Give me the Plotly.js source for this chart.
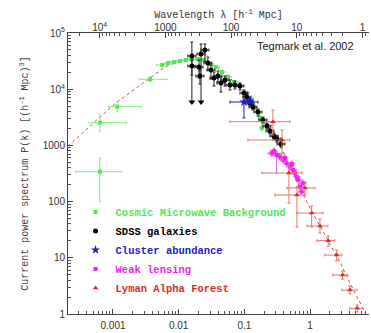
<!DOCTYPE html>
<html><head><meta charset="utf-8">
<script src="https://cdn.plot.ly/plotly-3.0.1.min.js"></script>
<style>html,body{margin:0;padding:0;background:#fff;} #chart{width:371px;height:333px;}</style>
</head><body><div id="chart"></div>
<script>
// ---- Model curve (red dotted) ----
const modelK = [2.07e-4, 3.62e-4, 6.34e-4, 1.15e-3, 2.02e-3, 3.66e-3, 6.18e-3, 0.0105, 0.0149, 0.0211, 0.0299, 0.0425, 0.0604, 0.0857, 0.122, 0.173, 0.245, 0.348, 0.494, 0.702, 0.997, 1.42, 2.01, 2.85, 4.05, 5.75, 7.61];
const modelP = [975, 1800, 3200, 5920, 9680, 15800, 24800, 31800, 34400, 33100, 28100, 22000, 15800, 10500, 6170, 3340, 1800, 975, 448, 175, 77, 36.8, 17.6, 8.4, 3.56, 1.57, 0.85];

// ---- Cosmic Microwave Background ----
const cmbK   = [6.3e-4, 6.3e-4, 1.16e-3, 3.66e-3, 0.0056, 0.0069, 0.0085, 0.0105, 0.0129, 0.0159, 0.0197, 0.0243, 0.0299, 0.0370, 0.0456, 0.0562, 0.0695, 0.0857, 0.1060, 0.1305, 0.1450, 0.1728, 0.1853];
const cmbKlo = [2.7e-4, 4.36e-4, 8.5e-4, 2.5e-3, 0.0046, 0.0061, 0.0075, 0.0093, 0.0114, 0.0141, 0.0174, 0.0215, 0.0265, 0.0327, 0.0403, 0.0497, 0.0615, 0.0758, 0.0938, 0.1220, 0.1360, 0.1620, 0.1740];
const cmbKhi = [1.35e-3, 1.6e-3, 2.73e-3, 6.7e-3, 0.0068, 0.0078, 0.0096, 0.0119, 0.0146, 0.0180, 0.0223, 0.0275, 0.0338, 0.0418, 0.0515, 0.0635, 0.0785, 0.0968, 0.1198, 0.1400, 0.1550, 0.1850, 0.1980];
const cmbP   = [340, 2540, 4890, 15000, 27000, 29200, 30500, 31800, 33100, 34400, 34400, 33100, 28100, 24800, 20200, 16500, 13400, 11400, 8550, 6430, 4630, 3073, 2040];
const cmbPlo = [100, 1750, 3980, 13500, 25100, 27200, 28400, 29600, 30800, 32000, 32000, 30800, 26100, 23100, 18800, 15300, 12500, 10600, 7950, 5700, 4000, 2700, 1800];
const cmbPhi = [600, 3570, 6000, 16500, 28900, 31200, 32600, 34000, 35400, 36800, 36800, 35400, 30100, 26500, 21600, 17700, 14300, 12200, 9150, 7200, 5300, 3500, 2350];

// ---- SDSS galaxies ----
const sdssK   = [0.0159, 0.0219, 0.0251, 0.0159, 0.0204, 0.0211, 0.0279, 0.0310, 0.0345, 0.0396, 0.0440, 0.0507, 0.0604, 0.0719, 0.0857, 0.0986, 0.1095, 0.1217, 0.1352, 0.1611, 0.1919, 0.2208, 0.2452, 0.2821, 0.3134, 0.3606];
const sdssKlo = [0.0138, 0.0190, 0.0218, 0.0138, 0.0177, 0.0183, 0.0243, 0.0270, 0.0300, 0.0344, 0.0383, 0.0441, 0.0525, 0.0625, 0.0745, 0.0857, 0.0952, 0.1058, 0.1176, 0.1401, 0.1669, 0.1920, 0.2132, 0.2453, 0.2725, 0.3136];
const sdssKhi = [0.0183, 0.0252, 0.0289, 0.0183, 0.0235, 0.0243, 0.0321, 0.0357, 0.0397, 0.0455, 0.0506, 0.0583, 0.0695, 0.0827, 0.0986, 0.1134, 0.1259, 0.1400, 0.1555, 0.1853, 0.2207, 0.2539, 0.2820, 0.3244, 0.3604, 0.4147];
const sdssP   = [38970, 42300, 49830, 25870, 24830, 17170, 29260, 21960, 15820, 17170, 12890, 14580, 11880, 11880, 11400, 8557, 7263, 5680, 4824, 3929, 2831, 2214, 1804, 1470, 1300, 1059];
const sdssPlo = [5916, 5916, 30500, 17890, 15820, 12380, 21960, 15190, 11400, 13430, 8920, 11400, 9680, 10080, 9680, 7263, 6427, 5024, 4265, 3336, 2503, 1958, 1595, 1300, 1150, 936];
const sdssPhi = [69100, 63700, 63700, 33090, 33090, 21960, 37410, 26960, 20230, 21080, 16490, 17170, 14580, 13990, 12890, 9680, 8210, 6427, 5454, 4443, 3201, 2503, 2040, 1662, 1470, 1198];
const sdssUpperLimit = [true, true, false, false, false, false, false, false, false, false, false, false, false, false, false, false, false, false, false, false, false, false, false, false, false, false];

// ---- Cluster abundance ----
const clK   = [0.0986, 0.1217];
const clKlo = [0.0604, 0.1120];
const clKhi = [0.1611, 0.1320];
const clP   = [5916, 6100];
const clPlo = [3076, 5500];
const clPhi = [6430, 6800];

// ---- Weak lensing ----
const wlK   = [0.2603, 0.2821, 0.3101, 0.3481, 0.3910, 0.4150, 0.4403, 0.4943, 0.5303, 0.5550, 0.5891, 0.6318, 0.6612, 0.7020, 0.7451, 0.7798];
const wlKlo = [0.2286, 0.2541, 0.2794, 0.3136, 0.3523, 0.3739, 0.3967, 0.4453, 0.4778, 0.5000, 0.5307, 0.5692, 0.5957, 0.6324, 0.6713, 0.7025];
const wlKhi = [0.4000, 0.3131, 0.3442, 0.3864, 0.4340, 0.4607, 0.4887, 0.5487, 0.5886, 0.6161, 0.6539, 0.7013, 0.7339, 0.7792, 0.8271, 0.8656];
const wlP   = [723, 795, 675, 629, 550, 597, 480, 418, 467, 365, 319, 274, 242, 184, 150, 214];
const wlPlo = [640, 704, 323, 557, 487, 528, 425, 370, 413, 323, 282, 242, 214, 163, 133, 189];
const wlPhi = [817, 898, 763, 711, 622, 675, 542, 472, 528, 412, 360, 310, 273, 208, 170, 242];

// ---- Lyman Alpha Forest ----
const laK   = [0.272, 0.374, 0.477, 0.632, 0.837, 1.058, 1.415, 1.892, 2.541, 3.135, 4.049, 5.228];
const laKlo = [0.0604, 0.1134, 0.1853, 0.2922, 0.4450, 0.6318, 0.8970, 1.274, 1.686, 2.232, 3.059, 4.049];
const laKhi = [0.4943, 0.4943, 0.7527, 0.8365, 1.187, 1.571, 1.873, 2.393, 3.059, 3.775, 5.174, 6.387];
const laP   = [2641, 1248, 323, 131, 175, 62.7, 36.8, 20.2, 11.2, 4.94, 2.67, 1.263];
const laPlo = [1531, 550, 94.4, 35.3, 131, 35.3, 27.6, 16.2, 8.77, 4.20, 2.27, 1.085];
const laPhi = [4265, 1879, 430, 182, 223, 83.5, 49.0, 24.4, 13.8, 5.82, 3.15, 1.446];

// ---- Axis tick labels ----
const kTickVals = [0.001, 0.01, 0.1, 1];
const kTickText = ['0.001', '0.01', '0.1', '1'];
const pTickVals = [1, 10, 100, 1000, 1e4, 1e5];
const pTickText = ['1', '10', '100', '1000', '10<sup>4</sup>', '10<sup>5</sup>'];
const lamTickVals = [1, 10, 100, 1000, 1e4];
const lamTickText = ['1', '10', '100', '1000', '10<sup>4</sup>'];

function errBar(c, lo, hi, color, w) {
  return {type: 'data', symmetric: false,
    array: hi.map((h, i) => h - c[i]), arrayminus: c.map((v, i) => v - lo[i]),
    color: color, thickness: 1, width: w};
}

const GREEN = '#55e455', BLACK = '#000000', BLUE = '#1c1cc8', MAG = '#ee22ee', RED = '#d92a2a';
const mono = 'Liberation Mono, Courier New, monospace';

const traces = [
  {x: modelK, y: modelP, mode: 'lines', line: {color: '#dd4a4a', width: 1, dash: 'dot'}, showlegend: false, hoverinfo: 'skip'},
  {x: cmbK, y: cmbP, mode: 'markers', name: '<span style="color:' + GREEN + '"><b>Cosmic Microwave Background</b></span>',
   marker: {symbol: 'square', size: 4, color: GREEN},
   error_x: errBar(cmbK, cmbKlo, cmbKhi, '#7df07d', 1), error_y: errBar(cmbP, cmbPlo, cmbPhi, '#7df07d', 1)},
  {x: sdssK, y: sdssP, mode: 'markers', name: '<b>SDSS galaxies</b>',
   marker: {symbol: 'circle', size: 5, color: BLACK},
   error_x: errBar(sdssK, sdssKlo, sdssKhi, '#222', 1.5), error_y: errBar(sdssP, sdssPlo, sdssPhi, '#222', 1.5)},
  {x: sdssK.filter((v, i) => sdssUpperLimit[i]), y: sdssPlo.filter((v, i) => sdssUpperLimit[i]), mode: 'markers',
   marker: {symbol: 'triangle-down', size: 6, color: BLACK}, showlegend: false, hoverinfo: 'skip'},
  {x: clK, y: clP, mode: 'markers', name: '<span style="color:' + BLUE + '"><b>Cluster abundance</b></span>',
   marker: {symbol: 'star', size: 7, color: BLUE},
   error_x: errBar(clK, clKlo, clKhi, BLUE, 1.5), error_y: errBar(clP, clPlo, clPhi, BLUE, 1.5)},
  {x: wlK, y: wlP, mode: 'markers', name: '<span style="color:' + MAG + '"><b>Weak lensing</b></span>',
   marker: {symbol: 'square', size: 4, color: MAG},
   error_x: errBar(wlK, wlKlo, wlKhi, '#f060f0', 1), error_y: errBar(wlP, wlPlo, wlPhi, '#f060f0', 1)},
  {x: laK, y: laP, mode: 'markers', name: '<span style="color:' + RED + '"><b>Lyman Alpha Forest</b></span>',
   marker: {symbol: 'triangle-up', size: 5, color: RED},
   error_x: errBar(laK, laKlo, laKhi, '#e8766a', 1.5), error_y: errBar(laP, laPlo, laPhi, '#e8766a', 1.5)},
  {x: modelK.map(k => 2 * Math.PI / k), y: modelP, xaxis: 'x2', mode: 'lines', line: {width: 0, color: 'rgba(0,0,0,0)'},
   showlegend: false, hoverinfo: 'skip'}
];

const lk0 = -3.685, lk1 = 0.898;
const axisCommon = {showgrid: false, zeroline: false, showline: true, linecolor: '#444', linewidth: 1,
  ticks: 'inside', ticklen: 5, tickcolor: '#444',
  minor: {ticks: 'inside', ticklen: 3, tickcolor: '#555', dtick: 'D1', showgrid: false},
  tickfont: {family: 'Liberation Sans, Arial, sans-serif', size: 10, color: '#333'}};

const layout = {
  width: 371, height: 333,
  margin: {l: 68, r: 2, t: 33, b: 19},
  paper_bgcolor: '#fff', plot_bgcolor: '#fff',
  showlegend: true,
  legend: {x: 0.025, y: 0.415, xanchor: 'left', yanchor: 'top', bgcolor: 'rgba(0,0,0,0)',
           font: {family: mono, size: 10.5, color: '#000'}, itemwidth: 30, tracegroupgap: 0},
  xaxis: Object.assign({}, axisCommon, {type: 'log', range: [lk0, lk1], tickvals: kTickVals, ticktext: kTickText,
           ticklabelstandoff: 2}),
  xaxis2: Object.assign({}, axisCommon, {type: 'log', overlaying: 'x', side: 'top', anchor: 'y',
           range: [Math.log10(2 * Math.PI) - lk0, Math.log10(2 * Math.PI) - lk1],
           tickvals: lamTickVals, ticktext: lamTickText, ticklabelstandoff: -3,
           title: {text: 'Wavelength λ [h<sup>-1</sup> Mpc]', font: {family: mono, size: 10, color: '#333'}, standoff: 0}}),
  yaxis: Object.assign({}, axisCommon, {type: 'log', range: [0, 5], tickvals: pTickVals, ticktext: pTickText,
           title: {text: 'Current power spectrum P(k) [(h<sup>-1</sup> Mpc)<sup>3</sup>]', font: {family: mono, size: 10, color: '#444'}, standoff: 12}}),
  annotations: [{text: 'Tegmark et al. 2002', xref: 'paper', yref: 'paper', x: 0.621, y: 0.955,
                 xanchor: 'left', yanchor: 'middle', showarrow: false,
                 font: {family: 'Liberation Sans, Arial, sans-serif', size: 11, color: '#222'}}]
};

Plotly.newPlot('chart', traces, layout, {staticPlot: true, displayModeBar: false});
</script>
</body></html>
